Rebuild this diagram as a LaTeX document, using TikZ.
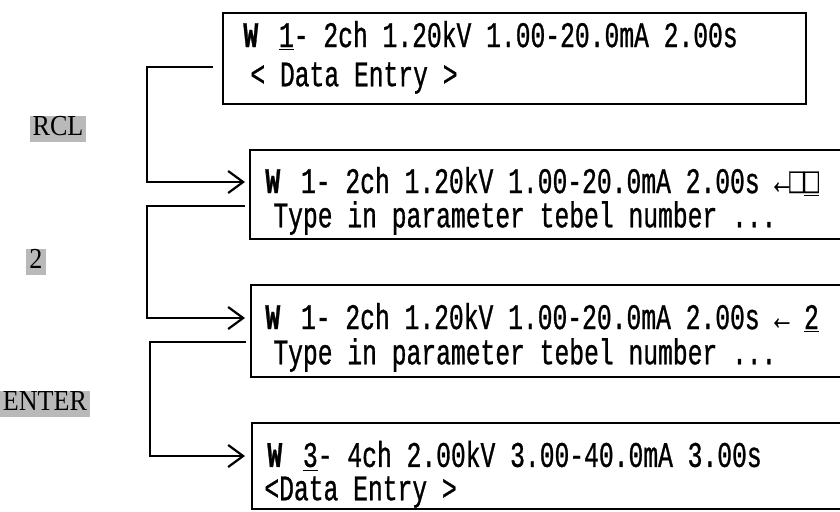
\documentclass[tikz,border=0pt]{standalone}
\usepackage{fontspec}
\usetikzlibrary{arrows.meta}
\newfontfamily\lcdfont[FakeStretch=0.685,FakeBold=0.8]{Liberation Mono}
\newfontfamily\keyfont[FakeStretch=0.9]{Liberation Serif}
\newcommand\lcdw{\textbf{W}\ \,}
\tikzset{
  screen/.style={draw, line width=1pt, anchor=north west, inner sep=0pt},
  row/.style={anchor=west, inner sep=0pt, font=\lcdfont\fontsize{18}{20}\selectfont},
  keycap/.style={fill=gray!55, inner xsep=1.5pt, inner ysep=3pt, text height=0.68em, text depth=0pt,
    font=\keyfont\fontsize{14.5}{16}\selectfont},
  link/.style={line width=1.1pt},
  feed/.style={link, -{Straight Barb[length=7.5pt,width=11pt]}}
}

\begin{document}
\begin{tikzpicture}[x=0.5pt, y=-0.5pt]
  \clip (0,0) rectangle (840,511);

  % screens
  \node[screen, minimum width=291.5pt, minimum height=45.5pt] (s1) at (222,12) {};
  \node[screen, minimum width=300.5pt, minimum height=44.5pt] (s2) at (249,149) {};
  \node[screen, minimum width=300pt, minimum height=46pt] (s3) at (250,284) {};
  \node[screen, minimum width=299.5pt, minimum height=43pt] (s4) at (251,422) {};

  % screen rows
  \node[row] (t1a) at (243,36) {\lcdw\underline{1}- 2ch 1.20kV 1.00-20.0mA 2.00s};
  \node[row] (t1b) at (250,78) {< Data Entry >};
  \node[row] (t2a) at (265,182) {\lcdw 1- 2ch 1.20kV 1.00-20.0mA 2.00s ←□\underline{□}};
  \node[row] (t2b) at (273,218) {Type in parameter tebel number ...};
  \node[row] (t3a) at (265,318) {\lcdw 1- 2ch 1.20kV 1.00-20.0mA 2.00s ← \underline{2}};
  \node[row] (t3b) at (273,355) {Type in parameter tebel number ...};
  \node[row] (t4a) at (267,456) {\lcdw\underline{3}- 4ch 2.00kV 3.00-40.0mA 3.00s};
  \node[row] (t4b) at (264,492) {<Data Entry >};

  % keys
  \node[keycap] (rcl) at (58,129) {RCL};
  \node[keycap] (two) at (36,262) {2};
  \node[keycap] (enter) at (45,404) {ENTER};

  % transitions
  \coordinate (k1) at (213,67);
  \coordinate (k2) at (245,206);
  \coordinate (k3) at (246,342);
  \draw[feed] (k1) -- ++(-66,0) |- ([xshift=-2pt]s2.west |- t2a.center);
  \draw[feed] (k2) -- ++(-98,0) |- ([xshift=-2.5pt]s3.west |- t3a.center);
  \draw[feed] (k3) -- ++(-96,0) |- ([xshift=-3pt]s4.west |- t4a.center);
\end{tikzpicture}
\end{document}
